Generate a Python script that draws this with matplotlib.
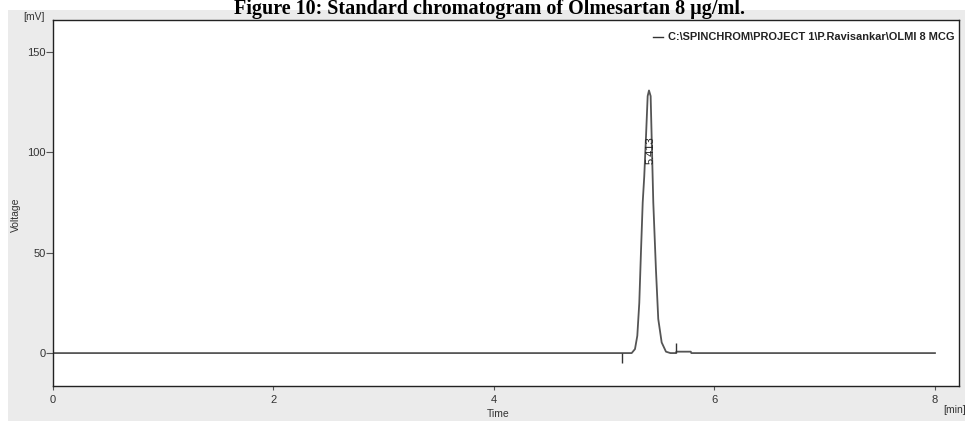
"""
Standard chromatogram of Olmesartan 8 ug/ml (Clarity-style trace).
"""

import matplotlib
matplotlib.use('Agg')
import matplotlib.pyplot as plt
from matplotlib.patches import Rectangle

# Trace: time [min], voltage [mV]
time_min = [0.0, 5.249, 5.279, 5.300, 5.318, 5.333, 5.349, 5.363, 5.379, 5.394,
            5.406, 5.421, 5.430, 5.445, 5.469, 5.490, 5.521, 5.560, 5.600,
            5.650, 5.655, 5.785, 5.790, 8.0]
voltage_mv = [0.0, 0.0, 2.0, 8.6, 25.0, 50.0, 75.0, 88.0, 108.0, 128.0,
              130.8, 128.0, 108.0, 75.0, 41.7, 17.0, 5.3, 0.7, 0.0,
              0.0, 0.7, 0.7, 0.0, 0.0]

# integration event marks (start below baseline, end above)
event_times = [5.158, 5.650]
event_lows = [-5.0, 0.0]
event_highs = [0.0, 5.0]

peak_time = 5.406
peak_label = '5.413'
peak_label_y = 108.0

x_ticks = [0, 2, 4, 6, 8]
y_ticks = [0, 50, 100, 150]

trace_name = 'C:\\SPINCHROM\\PROJECT 1\\P.Ravisankar\\OLMI 8 MCG'
title = 'Figure 10: Standard chromatogram of Olmesartan 8 \u00b5g/ml.'

W, H = 965, 421
fig = plt.figure(figsize=(W / 100, H / 100), dpi=100)
fig.patch.set_facecolor('white')

# grey software panel behind the plot
fig.patches.append(Rectangle((8 / W, 0), 1 - 8 / W, (H - 10) / H,
                             transform=fig.transFigure, facecolor='#ebebeb',
                             edgecolor='none', zorder=-10))

fig.text(490 / W, 1 - 14 / H, title, ha='center', va='baseline',
         fontsize=14.5, fontweight='bold', family=['Liberation Serif', 'DejaVu Serif'],
         zorder=5)

ax = fig.add_axes([53 / W, (H - 386) / H, 906 / W, 366 / H])
ax.set_facecolor('white')
ax.plot(time_min, voltage_mv, color='#555555', lw=1.3, solid_joinstyle='round')
ax.vlines(event_times, event_lows, event_highs, color='#333333', lw=1.0)

ax.text(peak_time + 0.015, peak_label_y, peak_label, rotation=90, ha='center', va='top',
        fontsize=8, color='#222222', family=['Liberation Sans', 'DejaVu Sans'])

ax.set_xlim(0, 8.218)
ax.set_ylim(-16.4, 165.9)
ax.set_xticks(x_ticks)
ax.set_yticks(y_ticks)
ax.tick_params(direction='out', width=0.8, color='#555555',
               labelsize=8, labelcolor='#333333')
ax.tick_params(axis='x', length=3, pad=3.5)
ax.tick_params(axis='y', length=5, pad=0.5)
for lab in ax.get_xticklabels() + ax.get_yticklabels():
    lab.set_family(['Liberation Sans', 'DejaVu Sans'])
for sp in ax.spines.values():
    sp.set_color('#222222')
    sp.set_linewidth(1.0)

# legend entry, top right
ax.plot([0.6625, 0.6735], [0.953, 0.953], transform=ax.transAxes, color='#333333', lw=1.0)
ax.text(0.679, 0.953, trace_name, transform=ax.transAxes, ha='left', va='center',
        fontsize=7.9, fontweight='bold', color='#222222',
        family=['Liberation Sans', 'DejaVu Sans'])

# axis captions placed like the software does
lab_font = ['Liberation Sans', 'DejaVu Sans']
fig.text(34 / W, 1 - 17 / H, '[mV]', ha='center', va='center', fontsize=7.5,
         color='#333333', family=lab_font)
fig.text(16 / W, 1 - 215 / H, 'Voltage', rotation=90, ha='center', va='center',
         fontsize=7.5, color='#333333', family=lab_font)
fig.text(498 / W, 1 - 414 / H, 'Time', ha='center', va='center', fontsize=7.5,
         color='#333333', family=lab_font)
fig.text(943 / W, 1 - 410 / H, '[min]', ha='left', va='center', fontsize=7.5,
         color='#333333', family=lab_font)

fig.savefig('out.png', dpi=100)
